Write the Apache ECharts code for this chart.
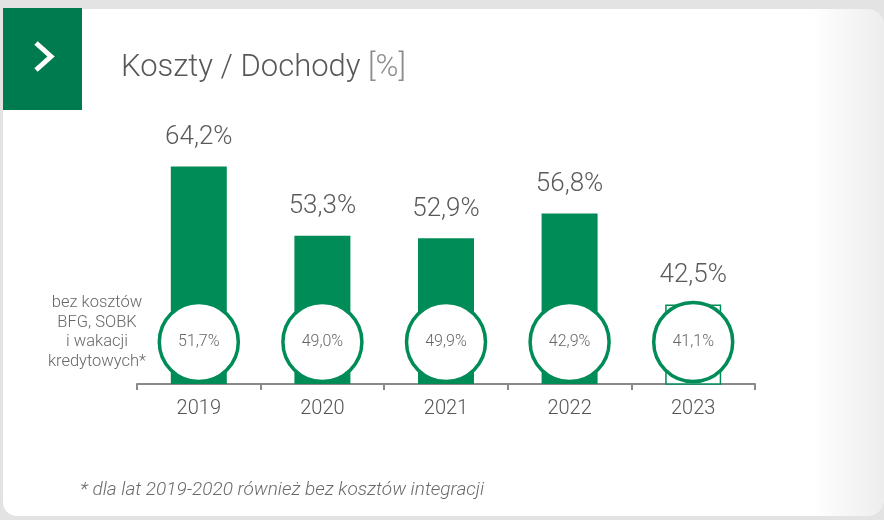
<!DOCTYPE html>
<html>
<head>
<meta charset="utf-8">
<script src="https://cdn.jsdelivr.net/npm/echarts@6/dist/echarts.min.js"></script>
<style>
  html, body { margin: 0; padding: 0; background: #e3e3e3; }
  #chartmain { width: 884px; height: 520px; }
</style>
</head>
<body>
<div id="chartmain"></div>
<script>
var years = ['2019', '2020', '2021', '2022', '2023'];
var ratio = [64.2, 53.3, 52.9, 56.8, 42.5];
var ratioAdj = [51.7, 49.0, 49.9, 42.9, 41.1];
var outlined = ['2023'];

var green = '#008c57';
var font = 'Roboto';
var fmt = function(v) { return v.toFixed(1).replace('.', ',') + '%'; };

var myChart = echarts.init(document.getElementById('chartmain'));
var options = {
    textStyle: { fontFamily: font },
    animation: false,
    graphic: [
        // karta
        { type: 'rect', shape: { x: 3, y: 9, width: 881, height: 507, r: [0, 16, 16, 14] },
          style: { fill: new echarts.graphic.LinearGradient(0, 0, 1, 0, [
              { offset: 0, color: '#ffffff' }, { offset: 0.92, color: '#ffffff' }, { offset: 1, color: '#ededed' }]) }, z: -10 },
        { type: 'rect', shape: { x: 3, y: 8, width: 79, height: 102 }, style: { fill: '#007a4f' } },
        { type: 'polyline', shape: { points: [[36, 43], [51, 56.5], [36, 70]] },
          style: { stroke: '#ffffff', lineWidth: 5, fill: null } },
        { type: 'text', left: 121, top: 53, style: {
            text: '{a|Koszty / Dochody }{b|[%]}',
            rich: { a: { fontSize: 31, fill: '#585858', fontFamily: font, fontWeight: 300 },
                    b: { fontSize: 31, fill: '#8c8c8c', fontFamily: font, fontWeight: 300 } } } },
        { type: 'text', x: 97, y: 293, style: {
            text: 'bez kosztów\nBFG, SOBK\ni wakacji\nkredytowych*',
            fontSize: 16.5, lineHeight: 19.7, fill: '#666', align: 'center', fontFamily: font, fontWeight: 300 } },
        { type: 'text', left: 80, top: 481, style: {
            text: '* dla lat 2019-2020 również bez kosztów integracji',
            fontSize: 19, fontStyle: 'italic', fill: '#6a6a6a', fontFamily: font, fontWeight: 300 } }
    ],
    grid: { left: 137, right: 129, top: 66, bottom: 136 },
    xAxis: {
        type: 'category',
        data: years,
        axisLine: { lineStyle: { color: '#8a8a8a', width: 2 } },
        axisTick: { show: true, length: 6, lineStyle: { color: '#8a8a8a', width: 2 } },
        axisLabel: { fontSize: 20, color: '#555', margin: 15, fontWeight: 300 }
    },
    yAxis: [
        { type: 'value', min: 30, max: 80, show: false, splitLine: { show: false } },
        { type: 'value', min: 0, max: 1, show: false, splitLine: { show: false } }
    ],
    series: [{
        type: 'bar',
        barWidth: 56,
        data: ratio.map(function(v, i) {
            var o = outlined.indexOf(years[i]) >= 0;
            return { value: v, itemStyle: o ? { color: '#fff', borderColor: green, borderWidth: 1.5 } : { color: green } };
        }),
        label: { show: true, position: 'top', distance: 16, fontSize: 26, color: '#5a5a5a', fontWeight: 300,
                 formatter: function(p) { return fmt(p.value); } }
    }, {
        type: 'scatter',
        yAxisIndex: 1,
        symbol: 'circle',
        symbolSize: 79,
        itemStyle: { color: '#fff', borderColor: green, borderWidth: 3.5, opacity: 1 },
        data: ratioAdj.map(function(v, i) { return [i, 0.132]; }),
        label: { show: true, position: 'inside', fontSize: 16, color: '#666', fontWeight: 300,
                 formatter: function(p) { return fmt(ratioAdj[p.dataIndex]); } },
        z: 5
    }]
};
myChart.setOption(options);
</script>
</body>
</html>
